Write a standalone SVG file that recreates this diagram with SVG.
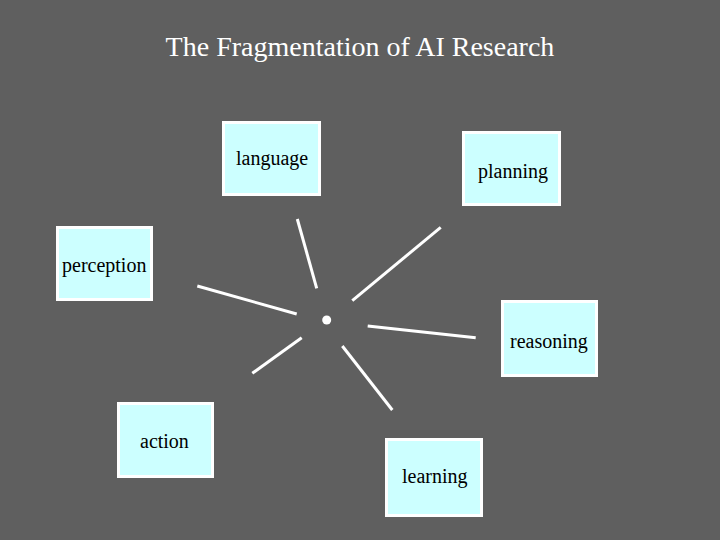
<svg xmlns="http://www.w3.org/2000/svg" width="720" height="540" viewBox="0 0 720 540">
<style>
.box{fill:#ccffff;stroke:#ffffff;stroke-width:3}
.lbl{font-family:"Liberation Serif","Times New Roman",serif;font-size:20px;fill:#000}
.title{font-family:"Liberation Serif","Times New Roman",serif;font-size:28px;fill:#fff;text-anchor:middle}
.conn line{stroke:#fff;stroke-width:3;stroke-linecap:butt}
</style>
<rect x="0" y="0" width="720" height="540" fill="#5f5f5f"/>
<text class="title" x="360" y="56">The Fragmentation of AI Research</text>
<g id="language"><rect class="box" x="223.5" y="122.5" width="96" height="72"/><text class="lbl" x="236" y="165">language</text></g>
<g id="planning"><rect class="box" x="463.5" y="132.5" width="96" height="72"/><text class="lbl" x="478" y="178">planning</text></g>
<g id="perception"><rect class="box" x="57.5" y="227.5" width="94" height="72"/><text class="lbl" x="62" y="272">perception</text></g>
<g id="reasoning"><rect class="box" x="502.5" y="301.5" width="94" height="74"/><text class="lbl" x="510" y="348">reasoning</text></g>
<g id="action"><rect class="box" x="118.5" y="403.5" width="94" height="73"/><text class="lbl" x="140" y="448">action</text></g>
<g id="learning"><rect class="box" x="386.5" y="439.5" width="95" height="76"/><text class="lbl" x="402" y="483">learning</text></g>
<g id="connectors" class="conn">
<line x1="297.3" y1="219" x2="316.7" y2="288.3"/>
<line x1="440.7" y1="227.3" x2="352.3" y2="300.7"/>
<line x1="197.3" y1="286" x2="296.7" y2="314"/>
<line x1="367.7" y1="326" x2="475.7" y2="337.7"/>
<line x1="301.7" y1="337.7" x2="252.3" y2="373.3"/>
<line x1="342.3" y1="346" x2="392.3" y2="410"/>
</g>
<g id="center"><circle cx="326.7" cy="320" r="4.5" fill="#fff"/></g>
</svg>
